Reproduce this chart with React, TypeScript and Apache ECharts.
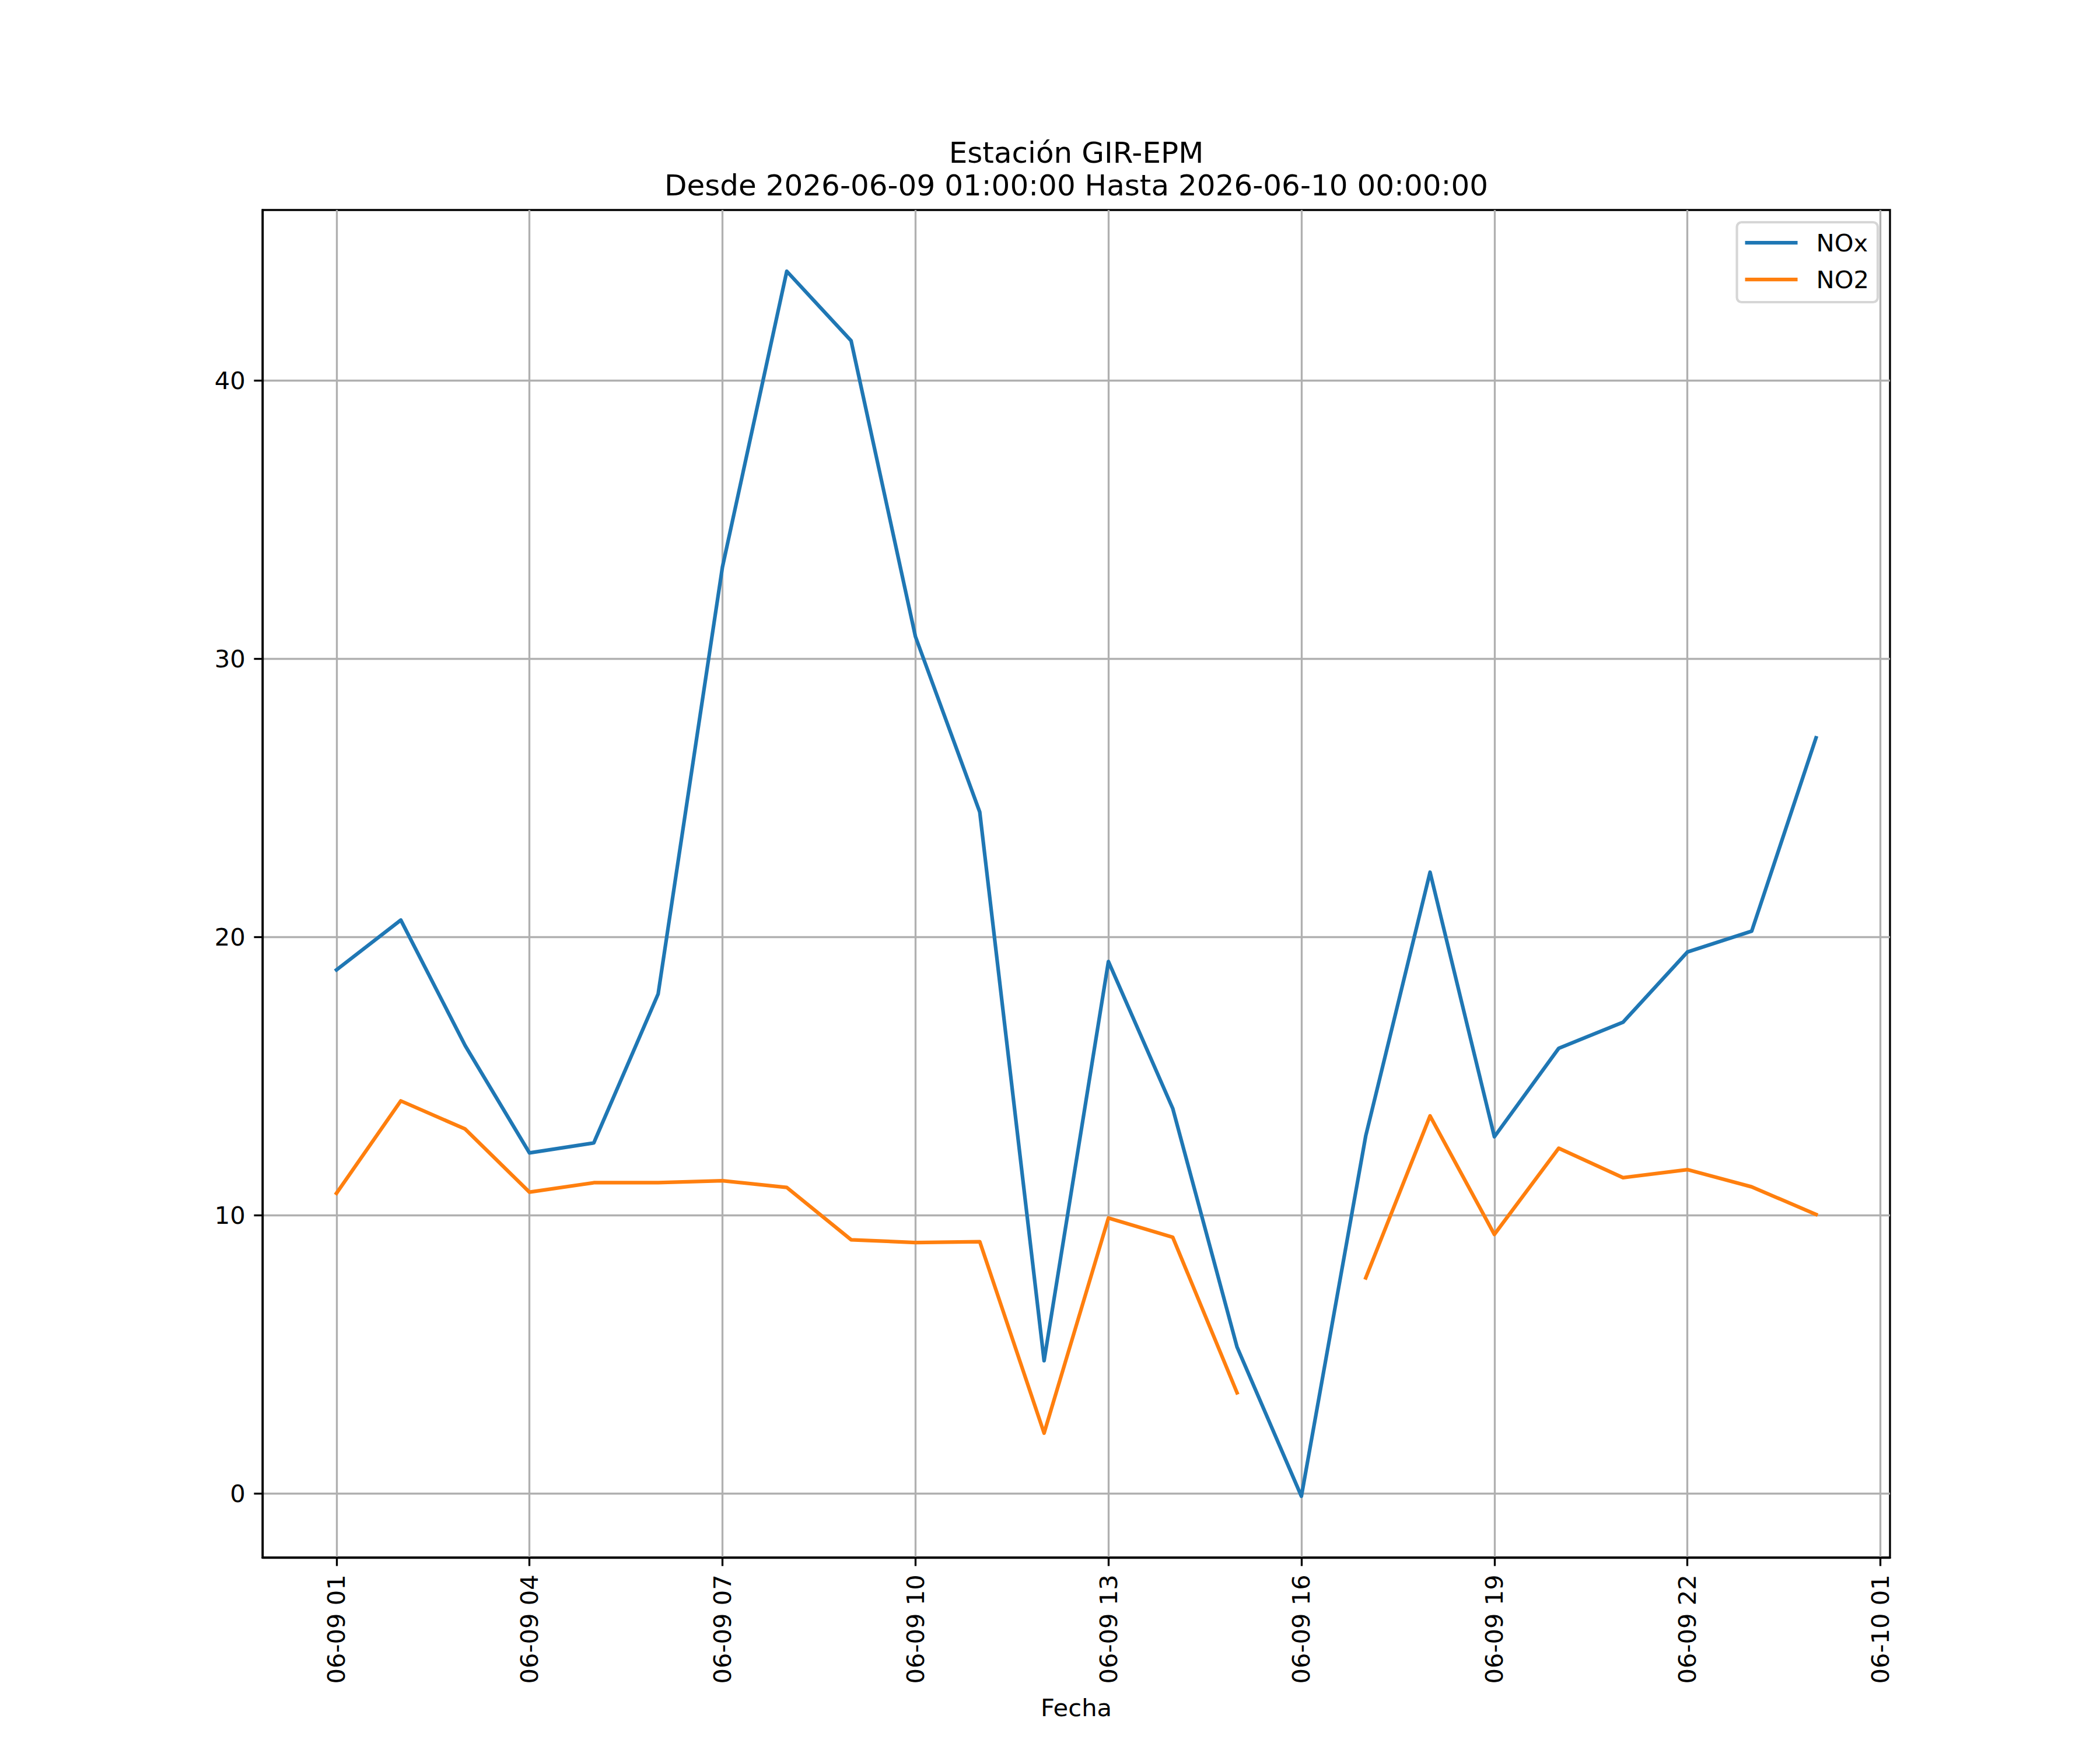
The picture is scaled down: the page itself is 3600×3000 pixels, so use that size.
import React, { useEffect, useRef } from "react";
import * as echarts from "echarts";

// Hours after 2026-06-09 00:00 (1 = 06-09 01:00 ... 24 = 06-10 00:00)
const hours = [1, 2, 3, 4, 5, 6, 7, 8, 9, 10, 11, 12, 13, 14, 15, 16, 17, 18, 19, 20, 21, 22, 23, 24];

const noxValues = [
  18.82, 20.61, 16.1, 12.24, 12.6, 17.95, 33.3, 43.93, 41.43, 30.8, 24.49, 4.77,
  19.12, 13.84, 5.26, -0.1, 12.85, 22.33, 12.82, 16.0, 16.94, 19.46, 20.21, 27.16,
];

const no2Values: (number | null)[] = [
  10.79, 14.11, 13.1, 10.83, 11.17, 11.17, 11.24, 11.0, 9.12, 9.02, 9.05, 2.17,
  9.9, 9.21, 3.62, null, 7.75, 13.57, 9.31, 12.41, 11.35, 11.64, 11.02, 10.03,
];

const xTickValues = [1, 4, 7, 10, 13, 16, 19, 22, 25];
const xTickLabels = [
  "06-09 01", "06-09 04", "06-09 07", "06-09 10", "06-09 13",
  "06-09 16", "06-09 19", "06-09 22", "06-10 01",
];
const yTickValues = [0, 10, 20, 30, 40];

const seriesNames = ["NOx", "NO2"];
const seriesColors = ["#1f77b4", "#ff7f0e"];

const titleLines = ["Estación GIR-EPM", "Desde 2026-06-09 01:00:00 Hasta 2026-06-10 00:00:00"];
const xAxisName = "Fecha";

const FONT = "DejaVu Sans";
const PT = 300 / 72;

export default function App() {
  const ref = useRef<HTMLDivElement>(null);

  useEffect(() => {
    document.body.style.margin = "0";
    if (!ref.current) return;
    const chart = echarts.init(ref.current, null, { renderer: "svg" });

    const allX = hours;
    const xMinData = Math.min(...allX);
    const xMaxData = Math.max(...allX);
    const xPad = (xMaxData - xMinData) * 0.05;
    const allY = [...noxValues, ...(no2Values.filter((v) => v !== null) as number[])];
    const yMinData = Math.min(...allY);
    const yMaxData = Math.max(...allY);
    const yPad = (yMaxData - yMinData) * 0.05;

    const gridL = 450, gridR = 3240, gridT = 360, gridB = 2670;
    const centerX = (gridL + gridR) / 2;
    const fs = 10 * PT;
    const tickLen = 3.5 * PT;
    const lw = 0.8 * PT;

    const option: any = {
      animation: false,
      backgroundColor: "#ffffff",
      textStyle: { fontFamily: FONT },
      grid: {
        left: gridL,
        right: 3600 - gridR,
        top: gridT,
        bottom: 3000 - gridB,
        show: true,
        borderColor: "#000000",
        borderWidth: lw,
        backgroundColor: "transparent",
      },
      graphic: [
        {
          type: "text",
          x: centerX,
          y: 262,
          style: {
            text: titleLines[0],
            fontSize: 12 * PT,
            fontFamily: FONT,
            fill: "#000000",
            align: "center",
            verticalAlign: "middle",
          },
        },
        {
          type: "text",
          x: centerX,
          y: 318,
          style: {
            text: titleLines[1],
            fontSize: 12 * PT,
            fontFamily: FONT,
            fill: "#000000",
            align: "center",
            verticalAlign: "middle",
          },
        },
      ],
      legend: {
        orient: "vertical",
        right: 3600 - 3219,
        top: 381,
        icon: "rect",
        itemWidth: 90,
        itemHeight: 1.5 * PT,
        itemGap: 15,
        padding: [11, 15, 15, 14],
        borderColor: "rgba(204,204,204,0.8)",
        borderWidth: 1 * PT,
        borderRadius: 8,
        backgroundColor: "rgba(255,255,255,0.8)",
        textStyle: {
          fontSize: fs,
          fontFamily: FONT,
          color: "#000000",
          lineHeight: 48,
          padding: [0, 0, 0, 27],
        },
        data: seriesNames,
      },
      xAxis: {
        type: "value",
        min: xMinData - xPad,
        max: xMaxData + xPad,
        name: xAxisName,
        nameLocation: "middle",
        nameGap: 236,
        nameTextStyle: { fontSize: fs, fontFamily: FONT, color: "#000000" },
        axisLine: { show: true, onZero: false, lineStyle: { color: "#000000", width: lw } },
        axisTick: {
          show: true,
          inside: false,
          length: tickLen,
          customValues: xTickValues,
          lineStyle: { color: "#000000", width: lw },
        },
        axisLabel: {
          show: true,
          rotate: 90,
          margin: tickLen + 3.5 * PT,
          fontSize: fs,
          fontFamily: FONT,
          color: "#000000",
          customValues: xTickValues,
          formatter: (v: number) => {
            const i = xTickValues.indexOf(Math.round(v));
            return i >= 0 ? xTickLabels[i] : "";
          },
        },
        splitLine: { show: true, lineStyle: { color: "#b0b0b0", width: lw } },
        minorTick: { show: false },
      },
      yAxis: {
        type: "value",
        min: yMinData - yPad,
        max: yMaxData + yPad,
        axisLine: { show: true, onZero: false, lineStyle: { color: "#000000", width: lw } },
        axisTick: {
          show: true,
          inside: false,
          length: tickLen,
          customValues: yTickValues,
          lineStyle: { color: "#000000", width: lw },
        },
        axisLabel: {
          show: true,
          margin: tickLen + 3.5 * PT,
          fontSize: fs,
          fontFamily: FONT,
          color: "#000000",
          customValues: yTickValues,
          formatter: (v: number) => String(Math.round(v)),
        },
        splitLine: { show: true, lineStyle: { color: "#b0b0b0", width: lw } },
      },
      series: [
        {
          name: seriesNames[0],
          type: "line",
          data: hours.map((h, i) => [h, noxValues[i]]),
          showSymbol: false,
          symbol: "none",
          color: seriesColors[0],
          lineStyle: { color: seriesColors[0], width: 1.5 * PT, join: "round", cap: "square" },
          emphasis: { disabled: true },
          z: 3,
        },
        {
          name: seriesNames[1],
          type: "line",
          data: hours.map((h, i) => [h, no2Values[i]]),
          showSymbol: false,
          symbol: "none",
          connectNulls: false,
          color: seriesColors[1],
          lineStyle: { color: seriesColors[1], width: 1.5 * PT, join: "round", cap: "square" },
          emphasis: { disabled: true },
          z: 3,
        },
      ],
    };

    chart.setOption(option);
    return () => {
      chart.dispose();
    };
  }, []);

  return <div ref={ref} style={{ width: 3600, height: 3000 }} />;
}
